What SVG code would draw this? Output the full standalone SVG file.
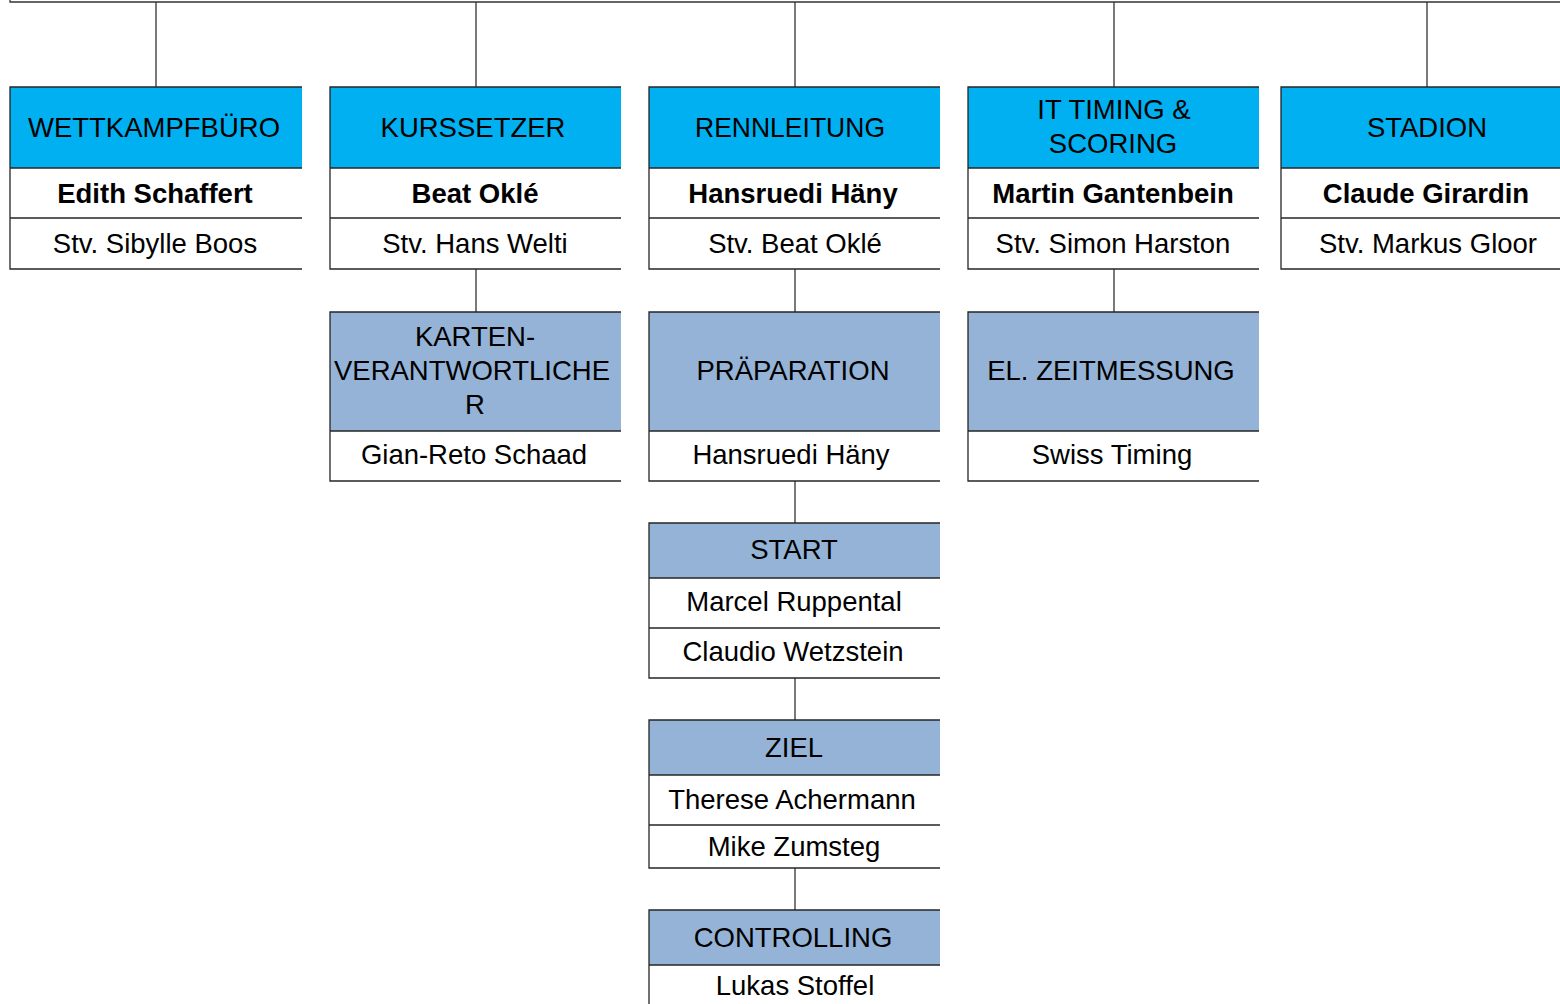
<svg xmlns="http://www.w3.org/2000/svg" width="1560" height="1004" viewBox="0 0 1560 1004">
<style>
.hd1{fill:#00B0F0}
.hd2{fill:#95B3D7}
.ln{stroke:#262626;stroke-width:1.3;fill:none}
.cn{stroke:#333;stroke-width:1.3;fill:none}
text{font-family:"Liberation Sans",Arial,sans-serif;font-size:27.5px;fill:#000;text-anchor:middle}
.b{font-weight:bold}
</style>
<rect width="1560" height="1004" fill="#fff"/>
<g id="connectors">
<path class="cn" d="M10 0V2H1560"/>
<path class="cn" d="M156 2V87M476 2V87M795 2V87M1114 2V87M1427 2V87"/>
<path class="cn" d="M476 269V312M795 269V312M1114 269V312"/>
<path class="cn" d="M795 481V523M795 678V720M795 868V910"/>
</g>
<g id="wettkampfbuero">
<rect class="hd1" x="10" y="87" width="292" height="81"/>
<path class="ln" d="M302 87H10V269H302M10 168H302M10 218H302"/>
<text x="154" y="137">WETTKAMPFBÜRO</text>
<text class="b" x="155" y="203">Edith Schaffert</text>
<text x="155" y="253">Stv. Sibylle Boos</text>
</g>
<g id="kurssetzer">
<rect class="hd1" x="330" y="87" width="291" height="81"/>
<path class="ln" d="M621 87H330V269H621M330 168H621M330 218H621"/>
<text x="473" y="137">KURSSETZER</text>
<text class="b" x="475" y="203">Beat Oklé</text>
<text x="475" y="253">Stv. Hans Welti</text>
</g>
<g id="rennleitung">
<rect class="hd1" x="649" y="87" width="291" height="81"/>
<path class="ln" d="M940 87H649V269H940M649 168H940M649 218H940"/>
<text x="790" y="137" textLength="190" lengthAdjust="spacingAndGlyphs">RENNLEITUNG</text>
<text class="b" x="793" y="203">Hansruedi Häny</text>
<text x="795" y="253">Stv. Beat Oklé</text>
</g>
<g id="it-timing">
<rect class="hd1" x="968" y="87" width="291" height="81"/>
<path class="ln" d="M1259 87H968V269H1259M968 168H1259M968 218H1259"/>
<text x="1114" y="119">IT TIMING &amp;</text>
<text x="1113" y="153">SCORING</text>
<text class="b" x="1113" y="203">Martin Gantenbein</text>
<text x="1113" y="253">Stv. Simon Harston</text>
</g>
<g id="stadion">
<rect class="hd1" x="1281" y="87" width="279" height="81"/>
<path class="ln" d="M1560 87H1281V269H1560M1281 168H1560M1281 218H1560"/>
<text x="1427" y="137">STADION</text>
<text class="b" x="1426" y="203">Claude Girardin</text>
<text x="1428" y="253">Stv. Markus Gloor</text>
</g>
<g id="kartenverantwortlicher">
<rect class="hd2" x="330" y="312" width="291" height="119"/>
<path class="ln" d="M621 312H330V481H621M330 431H621"/>
<text x="475" y="346">KARTEN-</text>
<text x="472" y="380">VERANTWORTLICHE</text>
<text x="475" y="414">R</text>
<text x="474" y="464">Gian-Reto Schaad</text>
</g>
<g id="praeparation">
<rect class="hd2" x="649" y="312" width="291" height="119"/>
<path class="ln" d="M940 312H649V481H940M649 431H940"/>
<text x="793" y="380">PRÄPARATION</text>
<text x="791" y="464">Hansruedi Häny</text>
</g>
<g id="el-zeitmessung">
<rect class="hd2" x="968" y="312" width="291" height="119"/>
<path class="ln" d="M1259 312H968V481H1259M968 431H1259"/>
<text x="1111" y="380">EL. ZEITMESSUNG</text>
<text x="1112" y="464">Swiss Timing</text>
</g>
<g id="start">
<rect class="hd2" x="649" y="523" width="291" height="55"/>
<path class="ln" d="M940 523H649V678H940M649 578H940M649 628H940"/>
<text x="794" y="559">START</text>
<text x="794" y="611">Marcel Ruppental</text>
<text x="793" y="661">Claudio Wetzstein</text>
</g>
<g id="ziel">
<rect class="hd2" x="649" y="720" width="291" height="55"/>
<path class="ln" d="M940 720H649V868H940M649 775H940M649 825H940"/>
<text x="794" y="757">ZIEL</text>
<text x="792" y="809">Therese Achermann</text>
<text x="794" y="856">Mike Zumsteg</text>
</g>
<g id="controlling">
<rect class="hd2" x="649" y="910" width="291" height="55"/>
<path class="ln" d="M940 910H649V1004M649 965H940"/>
<text x="793" y="947">CONTROLLING</text>
<text x="795" y="995">Lukas Stoffel</text>
</g>
</svg>
